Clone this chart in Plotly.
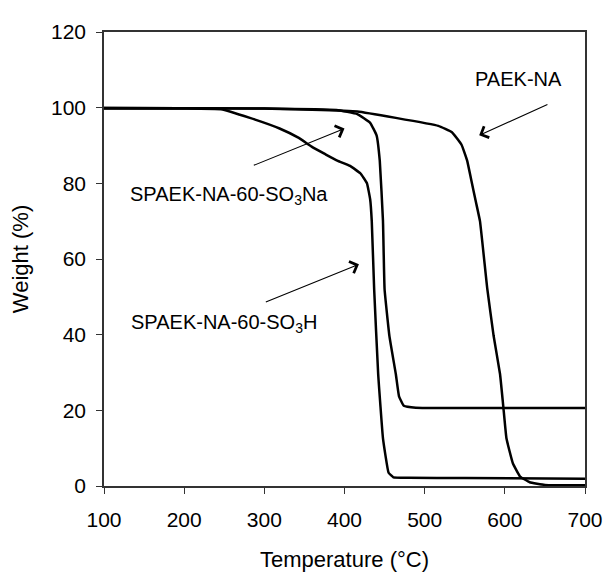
import plotly.graph_objects as go

# SPAEK-NA-60-SO3H
t_h = [100, 200, 246, 282, 319, 343, 359, 376, 391, 407, 420, 428, 432, 434, 437, 442, 448, 455, 461, 480, 550, 700]
w_h = [99.8, 99.8, 99.6, 97.3, 94.5, 92.0, 89.7, 87.7, 86.0, 84.6, 82.6, 80.0, 75.8, 70.0, 52.0, 29.6, 12.6, 3.5, 2.3, 2.2, 2.1, 1.9]

# SPAEK-NA-60-SO3Na
t_na = [100, 300, 390, 416, 432, 440, 444, 448, 450, 456, 464, 468, 474, 489, 600, 700]
w_na = [99.9, 99.8, 99.4, 98.3, 96.0, 92.7, 86.0, 70.0, 52.0, 39.7, 29.6, 23.7, 21.2, 20.7, 20.6, 20.6]

# PAEK-NA
t_p = [100, 300, 416, 464, 517, 534, 546, 553, 558, 564, 569, 578, 586, 594, 598, 602, 610, 619, 631, 650, 700]
w_p = [99.9, 99.8, 99.0, 97.3, 95.2, 93.5, 90.2, 86.0, 81.0, 75.0, 70.0, 52.3, 39.7, 29.6, 21.2, 12.6, 6.0, 2.5, 1.0, 0.3, 0.2]

x_ticks = [100, 200, 300, 400, 500, 600, 700]
y_ticks = [0, 20, 40, 60, 80, 100, 120]

FONT = "Liberation Sans, Arial, sans-serif"

fig = go.Figure()
for t, w, name in [(t_h, w_h, "SPAEK-NA-60-SO3H"), (t_na, w_na, "SPAEK-NA-60-SO3Na"), (t_p, w_p, "PAEK-NA")]:
    fig.add_trace(go.Scatter(x=t, y=w, mode="lines", name=name,
                             line=dict(color="black", width=2.5, shape="spline", smoothing=0.3)))

labels = [
    dict(text="PAEK-NA", x=617, y=107.5, tx=655, ty=101, hx=568, hy=92.7),
    dict(text="SPAEK-NA-60-SO<sub>3</sub>Na", x=256, y=76.8, tx=285, ty=84.6, hx=400, hy=94.5),
    dict(text="SPAEK-NA-60-SO<sub>3</sub>H", x=250, y=43, tx=300, ty=48.5, hx=418, hy=58.6),
]
annotations = []
for lb in labels:
    annotations.append(dict(text=lb["text"], x=lb["x"], y=lb["y"], xref="x", yref="y",
                            showarrow=False, font=dict(size=20, color="black", family=FONT)))
    annotations.append(dict(text="", x=lb["hx"], y=lb["hy"], ax=lb["tx"], ay=lb["ty"],
                            xref="x", yref="y", axref="x", ayref="y", showarrow=True,
                            arrowhead=4, arrowsize=2.2, arrowwidth=1.1, arrowcolor="black",
                            standoff=0, startstandoff=0))

fig.update_layout(
    width=607, height=572,
    margin=dict(l=92, r=21, t=14, b=83),
    plot_bgcolor="white", paper_bgcolor="white",
    showlegend=False,
    font=dict(family=FONT, color="black", size=21),
    annotations=annotations,
    xaxis=dict(range=[100, 700], tickvals=x_ticks, ticks="outside", ticklen=6, tickwidth=1.2,
               tickcolor="#333", showline=True, linecolor="#333", linewidth=1.5, mirror=True,
               showgrid=False, zeroline=False, tickfont=dict(size=21), ticklabelstandoff=8,
               title=dict(text="Temperature (°C)", font=dict(size=22), standoff=22)),
    yaxis=dict(range=[0, 120], tickvals=y_ticks, ticks="outside", ticklen=6, tickwidth=1.2,
               tickcolor="#333", showline=True, linecolor="#333", linewidth=1.5, mirror=True,
               showgrid=False, zeroline=False, tickfont=dict(size=21), ticklabelstandoff=6,
               title=dict(text="Weight (%)", font=dict(size=22), standoff=16)),
)

fig.write_html("out.html")
